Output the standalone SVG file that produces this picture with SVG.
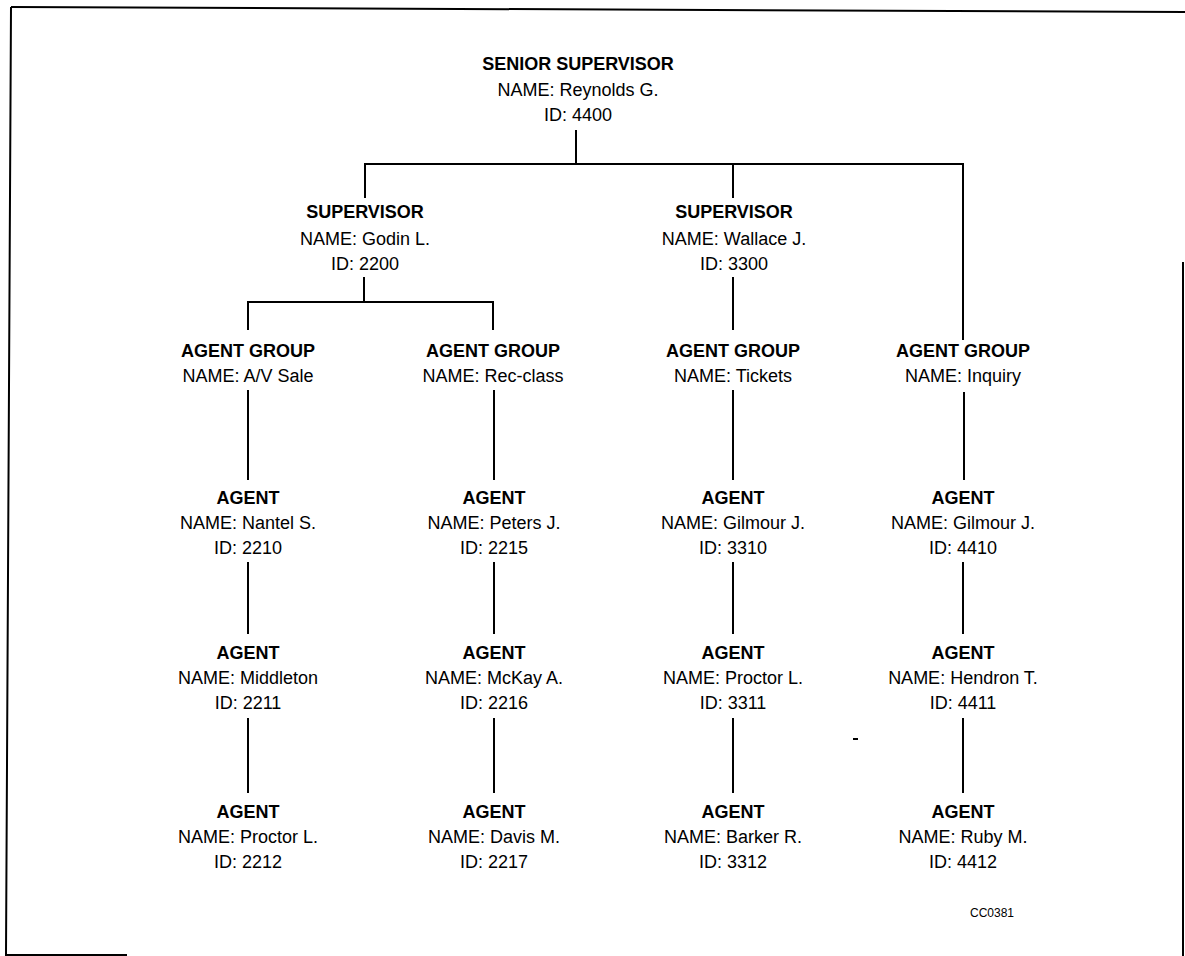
<svg xmlns="http://www.w3.org/2000/svg" width="1185" height="956" viewBox="0 0 1185 956">
  <style>
    text { font-family: "Liberation Sans", Arial, sans-serif; fill: #000; text-anchor: middle; }
    .t { font-size: 18px; font-weight: bold; }
    .l { font-size: 18px; }
    .code { font-size: 12px; }
    .wire { stroke: #000; stroke-width: 2; fill: none; }
    .frame { stroke: #000; stroke-width: 2; fill: none; }
  </style>
  <rect width="1185" height="956" fill="#fff"/>

  <!-- page frame -->
  <g id="frame">
    <path class="frame" d="M11 7 L1185 12"/>
    <path class="frame" d="M11 7 L6 955 L127 955"/>
    <path class="frame" d="M1183 262 L1183 956"/>
  </g>

  <!-- connectors -->
  <g id="connectors">
    <path class="wire" d="M576 130 V164"/>
    <path class="wire" d="M365 198 V164 H963 V340"/>
    <path class="wire" d="M733 164 V198"/>
    <path class="wire" d="M364 277 V302"/>
    <path class="wire" d="M248 330 V302 H493 V330"/>
    <path class="wire" d="M733 277 V330"/>
    <!-- group to first agent -->
    <path class="wire" d="M248 390 V480"/>
    <path class="wire" d="M494 390 V480"/>
    <path class="wire" d="M733 390 V480"/>
    <path class="wire" d="M964 392 V480"/>
    <!-- first to second agent -->
    <path class="wire" d="M248 562 V634"/>
    <path class="wire" d="M494 562 V634"/>
    <path class="wire" d="M733 562 V634"/>
    <path class="wire" d="M963 562 V634"/>
    <!-- second to third agent -->
    <path class="wire" d="M248 718 V793"/>
    <path class="wire" d="M494 718 V793"/>
    <path class="wire" d="M733 718 V793"/>
    <path class="wire" d="M963 718 V793"/>
    <path class="wire" d="M853 739 H858"/>
  </g>

  <g id="senior">
    <text class="t" x="578" y="70">SENIOR SUPERVISOR</text>
    <text class="l" x="578" y="96">NAME: Reynolds G.</text>
    <text class="l" x="578" y="121">ID: 4400</text>
  </g>

  <g id="sup-godin">
    <text class="t" x="365" y="218">SUPERVISOR</text>
    <text class="l" x="365" y="245">NAME: Godin L.</text>
    <text class="l" x="365" y="270">ID: 2200</text>
  </g>
  <g id="sup-wallace">
    <text class="t" x="734" y="218">SUPERVISOR</text>
    <text class="l" x="734" y="245">NAME: Wallace J.</text>
    <text class="l" x="734" y="270">ID: 3300</text>
  </g>

  <g id="grp-av">
    <text class="t" x="248" y="357">AGENT GROUP</text>
    <text class="l" x="248" y="382">NAME: A/V Sale</text>
  </g>
  <g id="grp-rec">
    <text class="t" x="493" y="357">AGENT GROUP</text>
    <text class="l" x="493" y="382">NAME: Rec-class</text>
  </g>
  <g id="grp-tickets">
    <text class="t" x="733" y="357">AGENT GROUP</text>
    <text class="l" x="733" y="382">NAME: Tickets</text>
  </g>
  <g id="grp-inquiry">
    <text class="t" x="963" y="357">AGENT GROUP</text>
    <text class="l" x="963" y="382">NAME: Inquiry</text>
  </g>

  <!-- agents, column 1 -->
  <g id="ag-2210">
    <text class="t" x="248" y="504">AGENT</text>
    <text class="l" x="248" y="529">NAME: Nantel S.</text>
    <text class="l" x="248" y="554">ID: 2210</text>
  </g>
  <g id="ag-2211">
    <text class="t" x="248" y="659">AGENT</text>
    <text class="l" x="248" y="684">NAME: Middleton</text>
    <text class="l" x="248" y="709">ID: 2211</text>
  </g>
  <g id="ag-2212">
    <text class="t" x="248" y="818">AGENT</text>
    <text class="l" x="248" y="843">NAME: Proctor L.</text>
    <text class="l" x="248" y="868">ID: 2212</text>
  </g>

  <!-- agents, column 2 -->
  <g id="ag-2215">
    <text class="t" x="494" y="504">AGENT</text>
    <text class="l" x="494" y="529">NAME: Peters J.</text>
    <text class="l" x="494" y="554">ID: 2215</text>
  </g>
  <g id="ag-2216">
    <text class="t" x="494" y="659">AGENT</text>
    <text class="l" x="494" y="684">NAME: McKay A.</text>
    <text class="l" x="494" y="709">ID: 2216</text>
  </g>
  <g id="ag-2217">
    <text class="t" x="494" y="818">AGENT</text>
    <text class="l" x="494" y="843">NAME: Davis M.</text>
    <text class="l" x="494" y="868">ID: 2217</text>
  </g>

  <!-- agents, column 3 -->
  <g id="ag-3310">
    <text class="t" x="733" y="504">AGENT</text>
    <text class="l" x="733" y="529">NAME: Gilmour J.</text>
    <text class="l" x="733" y="554">ID: 3310</text>
  </g>
  <g id="ag-3311">
    <text class="t" x="733" y="659">AGENT</text>
    <text class="l" x="733" y="684">NAME: Proctor L.</text>
    <text class="l" x="733" y="709">ID: 3311</text>
  </g>
  <g id="ag-3312">
    <text class="t" x="733" y="818">AGENT</text>
    <text class="l" x="733" y="843">NAME: Barker R.</text>
    <text class="l" x="733" y="868">ID: 3312</text>
  </g>

  <!-- agents, column 4 -->
  <g id="ag-4410">
    <text class="t" x="963" y="504">AGENT</text>
    <text class="l" x="963" y="529">NAME: Gilmour J.</text>
    <text class="l" x="963" y="554">ID: 4410</text>
  </g>
  <g id="ag-4411">
    <text class="t" x="963" y="659">AGENT</text>
    <text class="l" x="963" y="684">NAME: Hendron T.</text>
    <text class="l" x="963" y="709">ID: 4411</text>
  </g>
  <g id="ag-4412">
    <text class="t" x="963" y="818">AGENT</text>
    <text class="l" x="963" y="843">NAME: Ruby M.</text>
    <text class="l" x="963" y="868">ID: 4412</text>
  </g>

  <text class="code" x="992" y="917">CC0381</text>
</svg>
